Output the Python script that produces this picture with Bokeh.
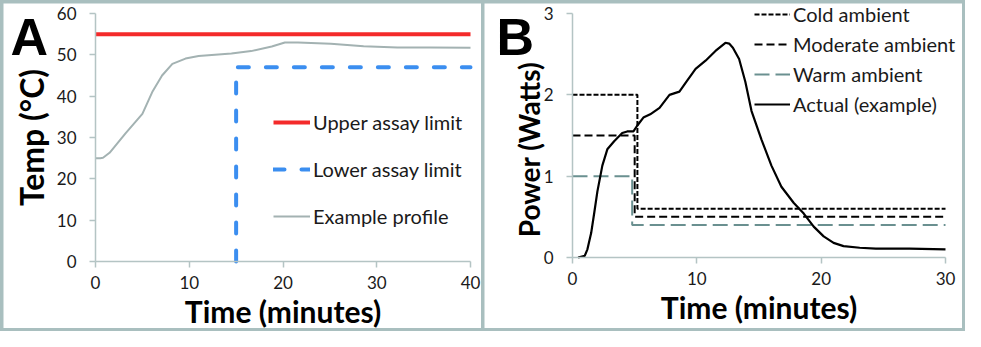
import math
from bokeh.plotting import figure
from bokeh.models import Range1d, Legend, LegendItem, Label, FixedTicker, LinearAxis
from bokeh.layouts import row
from bokeh.embed import file_html
from bokeh.resources import INLINE

# ---------------- data: panel A ----------------
temp_t = [0, 0.5, 0.8, 1.5, 3.2, 5.0, 6.1, 7.1, 8.2, 9.6, 11.0, 14.5, 16.6, 18.8, 20.2, 21.6, 25.1, 28.6, 32.2, 35.7, 40]
temp_v = [25.0, 25.0, 25.1, 26.3, 31.0, 35.7, 41.2, 45.0, 47.8, 49.1, 49.7, 50.3, 50.9, 52.0, 53.0, 53.0, 52.7, 52.1, 51.8, 51.8, 51.7]
upper_t = [0, 40]
upper_v = [55, 55]
lower_t = [15, 15, 40]
lower_v = [0, 47, 47]
a_xticks = [0, 10, 20, 30, 40]
a_yticks = [0, 10, 20, 30, 40, 50, 60]

# ---------------- data: panel B ----------------
power_t = [0.45, 0.98, 1.2, 1.5, 1.75, 2.0, 2.4, 2.8, 3.35, 4.0, 4.4, 4.9, 5.2, 5.7, 6.25, 7.0, 7.8, 8.6,
           9.15, 9.9, 10.7, 11.5, 12.3, 12.6, 12.9, 13.4, 13.9, 14.4, 15.2, 16.0, 16.8, 17.8, 18.6, 19.4,
           20.2, 21.0, 21.8, 23.1, 24.4, 27.1, 30]
power_v = [0, 0.02, 0.1, 0.3, 0.55, 0.81, 1.13, 1.33, 1.43, 1.53, 1.55, 1.55, 1.62, 1.72, 1.76, 1.84, 2.0, 2.04,
           2.16, 2.32, 2.42, 2.54, 2.64, 2.63, 2.58, 2.44, 2.16, 1.8, 1.45, 1.13, 0.87, 0.67, 0.54, 0.38,
           0.26, 0.18, 0.14, 0.12, 0.11, 0.11, 0.10]
cold_t = [0, 5.22, 5.22, 30]
cold_v = [2.0, 2.0, 0.6, 0.6]
mod_t = [0, 5.0, 5.0, 30]
mod_v = [1.5, 1.5, 0.5, 0.5]
warm_t = [0, 4.8, 4.8, 30]
warm_v = [1.0, 1.0, 0.4, 0.4]
b_xticks = [0, 10, 20, 30]
b_yticks = [0, 1, 2, 3]

FONT = "Lato"
AXIS_COL = "#b4c4c4"
TXT = "#1a1a1a"
W, H = 478, 325


def make_fig(xlim, ylim, px_left, px_right, px_top, px_bottom):
    # the frame fills the whole figure; ranges are chosen so the data box sits at the given pixels
    sx = (px_right - px_left) / (xlim[1] - xlim[0])
    sy = (px_bottom - px_top) / (ylim[1] - ylim[0])
    xr = Range1d(xlim[0] - px_left / sx, xlim[1] + (W - px_right) / sx)
    yr = Range1d(ylim[0] - (H - px_bottom) / sy, ylim[1] + px_top / sy)
    p = figure(width=W, height=H, output_backend="svg", toolbar_location=None,
               x_range=xr, y_range=yr, x_axis_location=None, y_axis_location=None,
               min_border=0, background_fill_color="white", border_fill_color="white")
    p.xgrid.visible = False
    p.ygrid.visible = False
    p.outline_line_color = None
    return p


def add_axes(p, xlim, ylim, xticks, yticks, xlabel, ylabel, ytitle_size):
    xa = LinearAxis(fixed_location=ylim[0], bounds=xlim, ticker=FixedTicker(ticks=xticks), axis_label=xlabel)
    ya = LinearAxis(fixed_location=xlim[0], bounds=ylim, ticker=FixedTicker(ticks=yticks), axis_label=ylabel)
    for ax in (xa, ya):
        ax.axis_line_color = AXIS_COL
        ax.axis_line_width = 1.5
        ax.major_tick_line_color = AXIS_COL
        ax.major_tick_line_width = 1.5
        ax.major_tick_in = 0
        ax.major_tick_out = 6
        ax.minor_tick_line_color = None
        ax.major_label_text_font = FONT
        ax.major_label_text_font_size = "17px"
        ax.major_label_text_color = TXT
        ax.axis_label_text_font = FONT
        ax.axis_label_text_font_size = "30px"
        ax.axis_label_text_font_style = "bold"
        ax.axis_label_text_color = "#000000"
    ya.axis_label_text_font_size = ytitle_size
    xa.major_label_standoff = 8
    xa.axis_label_standoff = 1
    ya.major_label_standoff = 13
    ya.axis_label_standoff = 3
    p.add_layout(xa, "below")
    p.add_layout(ya, "left")


# ---------------- panel A ----------------
a_x, a_y = (0, 40), (0, 60)
pA = make_fig(a_x, a_y, 92, 467, 10, 258)
add_axes(pA, a_x, a_y, a_xticks, a_yticks, "Time (minutes)", "Temp (°C)", "32px")

r_up = pA.line(upper_t, upper_v, line_color="#f42a2a", line_width=4)
r_lo = pA.line(lower_t, lower_v, line_color="#3b8ef0", line_width=4, line_dash="11 17", line_cap="round")
r_ex = pA.line(temp_t, temp_v, line_color="#a3b2b2", line_width=2)

legA = Legend(items=[LegendItem(label="Upper assay limit", renderers=[r_up]),
                     LegendItem(label="Lower assay limit", renderers=[r_lo]),
                     LegendItem(label="Example profile", renderers=[r_ex])],
              location=(270, 100), glyph_width=37, glyph_height=20, label_height=20,
              spacing=23, label_standoff=3, padding=0, margin=0,
              border_line_color=None, background_fill_alpha=0,
              label_text_font=FONT, label_text_font_size="20px", label_text_color=TXT)
pA.add_layout(legA, "center")
pA.add_layout(Label(x=7, y=H - 33, x_units="screen", y_units="screen", text="A",
                    text_font="Liberation Sans", text_font_style="bold", text_baseline="alphabetic",
                    text_font_size="52px", text_color="black"))

# ---------------- panel B ----------------
b_x, b_y = (0, 30), (0, 3)
pB = make_fig(b_x, b_y, 88, 461, 10, 254)
add_axes(pB, b_x, b_y, b_xticks, b_yticks, "Time (minutes)", "", "28px")
pB.add_layout(Label(x=44, y=H - 146, x_units="screen", y_units="screen", text="Power (Watts)",
                    angle=math.pi / 2, text_align="center", text_baseline="middle",
                    text_font=FONT, text_font_style="bold", text_font_size="28px", text_color="black"))

r_cold = pB.line(cold_t, cold_v, line_color="black", line_width=2, line_dash="5 2")
r_mod = pB.line(mod_t, mod_v, line_color="black", line_width=2, line_dash="8 4")
r_warm = pB.line(warm_t, warm_v, line_color="#6a9090", line_width=2, line_dash="15 6")
r_act = pB.line(power_t, power_v, line_color="black", line_width=2.2)

legB = Legend(items=[LegendItem(label="Cold ambient", renderers=[r_cold]),
                     LegendItem(label="Moderate ambient", renderers=[r_mod]),
                     LegendItem(label="Warm ambient", renderers=[r_warm]),
                     LegendItem(label="Actual (example)", renderers=[r_act])],
              location=(270, 212), glyph_width=36, glyph_height=20, label_height=20,
              spacing=6, label_standoff=3, padding=0, margin=0,
              border_line_color=None, background_fill_alpha=0,
              label_text_font=FONT, label_text_font_size="20px", label_text_color=TXT)
pB.add_layout(legB, "center")
pB.add_layout(Label(x=12, y=H - 33, x_units="screen", y_units="screen", text="B",
                    text_font="Liberation Sans", text_font_style="bold", text_baseline="alphabetic",
                    text_font_size="52px", text_color="black"))

layout = row(pA, pB, spacing=3,
             styles={"background-color": "#a9bfbf", "padding": "3px"})

open("out.html", "w").write(file_html(layout, INLINE))
